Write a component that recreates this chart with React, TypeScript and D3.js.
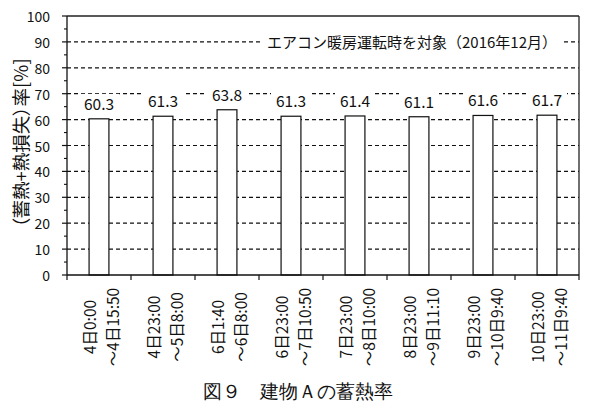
import React from "react";
import * as d3 from "d3";

const categoriesLine1 = ["4日0:00", "4日23:00", "6日1:40", "6日23:00", "7日23:00", "8日23:00", "9日23:00", "10日23:00"];
const categoriesLine2 = ["～4日15:50", "～5日8:00", "～6日8:00", "～7日10:50", "～8日10:00", "～9日11:10", "～10日9:40", "～11日9:40"];
const values = [60.3, 61.3, 63.8, 61.3, 61.4, 61.1, 61.6, 61.7];
const majorTicks = [0, 10, 20, 30, 40, 50, 60, 70, 80, 90, 100];
const minorTicks = [5, 15, 25, 35, 45, 55, 65, 75, 85, 95];
const yLabel = "（蓄熱+熱損失）率[%]";
const annotation = "エアコン暖房運転時を対象（2016年12月）";
const caption = "図９　建物Ａの蓄熱率";

const W = 591;
const H = 408;
const L = 67, R = 579, T = 16, B = 275;
const FONT = "'Noto Sans CJK JP', 'Noto Sans', sans-serif";

export default function App() {
  const idx = values.map((_, i) => String(i));
  const x = d3.scaleBand<string>().domain(idx).range([L, R]).paddingInner(0.69).paddingOuter(0.345);
  const y = d3.scaleLinear().domain([0, 100]).range([B, T]);
  const step = x.step();

  return (
    <div style={{ position: "absolute", left: 0, top: 0 }}>
      <svg width={W} height={H} style={{ display: "block", background: "#fff" }}>
        {/* gridlines */}
        {majorTicks.filter((t) => t > 0 && t < 100).map((t) => (
          <line key={"g" + t} x1={L} x2={R} y1={y(t)} y2={y(t)} stroke="#111" strokeWidth={1.2} strokeDasharray="4,3" />
        ))}
        {/* annotation */}
        <rect x={263} y={y(90) - 10} width={300} height={20} fill="#fff" />
        <text x={412} y={y(90)} textAnchor="middle" dominantBaseline="central" fontFamily={FONT} fontSize={15} fill="#111">
          {annotation}
        </text>
        {/* bars */}
        {values.map((v, i) => (
          <rect key={"b" + i} x={x(String(i))} y={y(v)} width={x.bandwidth()} height={B - y(v)} fill="#fff" stroke="#111" strokeWidth={1.2} />
        ))}
        {/* data labels */}
        {values.map((v, i) => {
          const cx = (x(String(i)) as number) + x.bandwidth() / 2;
          const cy = y(v) - 16;
          return (
            <g key={"l" + i}>
              <rect x={cx - 20} y={cy - 9} width={40} height={18} fill="#fff" />
              <text x={cx} y={cy} textAnchor="middle" dominantBaseline="central" fontFamily={FONT} fontSize={15.5} fill="#111">
                {v.toFixed(1)}
              </text>
            </g>
          );
        })}
        {/* frame */}
        <line x1={L} x2={R} y1={T} y2={T} stroke="#222" strokeWidth={1.3} />
        <line x1={R} x2={R} y1={T} y2={B} stroke="#222" strokeWidth={1.3} />
        <line x1={L} x2={L} y1={T} y2={B} stroke="#111" strokeWidth={1.3} />
        <line x1={L} x2={R} y1={B} y2={B} stroke="#111" strokeWidth={1.3} />
        {/* y ticks */}
        {majorTicks.map((t) => (
          <g key={"yt" + t}>
            <line x1={L - 5} x2={L} y1={y(t)} y2={y(t)} stroke="#111" strokeWidth={1.2} />
            <text x={L - 17} y={y(t)} textAnchor="end" dominantBaseline="central" fontFamily={FONT} fontSize={14} fill="#111">
              {t}
            </text>
          </g>
        ))}
        {minorTicks.map((t) => (
          <line key={"ym" + t} x1={L - 3} x2={L} y1={y(t)} y2={y(t)} stroke="#111" strokeWidth={1.1} />
        ))}
        {/* x ticks */}
        {d3.range(values.length + 1).map((k) => (
          <line key={"xt" + k} x1={L + k * step} x2={L + k * step} y1={B} y2={B + 5} stroke="#111" strokeWidth={1.2} />
        ))}
        {/* x labels */}
        {values.map((_, i) => {
          const cx = (x(String(i)) as number) + x.bandwidth() / 2;
          const cy = 327;
          return (
            <g key={"xl" + i}>
              <text transform={`translate(${cx - 10},${cy}) rotate(-90)`} textAnchor="middle" dominantBaseline="central" fontFamily={FONT} fontSize={15.5} fill="#111">
                {categoriesLine1[i]}
              </text>
              <text transform={`translate(${cx + 13},${cy}) rotate(-90)`} textAnchor="middle" dominantBaseline="central" fontFamily={FONT} fontSize={15.5} fill="#111">
                {categoriesLine2[i]}
              </text>
            </g>
          );
        })}
        {/* y label */}
        <text transform={`translate(20,${143}) rotate(-90)`} textAnchor="middle" dominantBaseline="central" fontFamily={FONT} fontSize={18.5} fill="#111" style={{ fontFeatureSettings: "'palt'" }}>
          {yLabel}
        </text>
        {/* caption */}
        <text x={298} y={391} textAnchor="middle" dominantBaseline="central" fontFamily="serif" fontSize={19} fill="#111">
          {caption}
        </text>
      </svg>
    </div>
  );
}
